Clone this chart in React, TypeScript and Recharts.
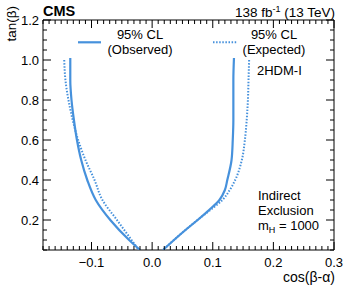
import React from 'react';
import { LineChart, Line, XAxis, YAxis, ReferenceArea } from 'recharts';

const W = 357;
const H = 286;
const M = { top: 20, right: 23, left: 42, bottom: 35 };
const PW = 291;
const PH = 230;

const FONT = '"Liberation Sans", Arial, Helvetica, sans-serif';
const BLUE = '#4691dc';

const xDomain: [number, number] = [-0.18, 0.3];
const yDomain: [number, number] = [0.05, 1.2];
const xMajorTicks = [-0.1, 0, 0.1, 0.2, 0.3];
const xTickLabels = ['\u22120.1', '0.0', '0.1', '0.2', '0.3'];
const yMajorTicks = [0.2, 0.4, 0.6, 0.8, 1.0, 1.2];
const yTickLabels = ['0.2', '0.4', '0.6', '0.8', '1.0', '1.2'];
const xMinorTicks = Array.from({ length: 49 }, (_, i) => (-18 + i) / 100);
const yMinorTicks = Array.from({ length: 24 }, (_, i) => (5 + 5 * i) / 100);

// Observed 95% CL
const obsLeftTan = [1.01, 0.9, 0.8, 0.7, 0.6, 0.5, 0.4, 0.3, 0.2, 0.1, 0.05];
const obsLeftCos = [-0.135, -0.135, -0.133, -0.129, -0.124, -0.117, -0.107, -0.093, -0.069, -0.038, -0.02];
const obsRightTan = [1.01, 0.9, 0.8, 0.7, 0.6, 0.5, 0.4, 0.35, 0.3, 0.25, 0.2, 0.15, 0.1, 0.05];
const obsRightCos = [0.135, 0.134, 0.134, 0.134, 0.133, 0.131, 0.124, 0.12, 0.111, 0.094, 0.075, 0.055, 0.036, 0.018];

// Expected 95% CL
const expLeftTan = [1.0, 0.9, 0.8, 0.7, 0.6, 0.5, 0.4, 0.3, 0.2, 0.1, 0.05];
const expLeftCos = [-0.145, -0.143, -0.138, -0.131, -0.122, -0.11, -0.095, -0.082, -0.058, -0.034, -0.022];
const expRightTan = [1.0, 0.9, 0.8, 0.7, 0.6, 0.5, 0.4, 0.35, 0.3, 0.25, 0.2, 0.15, 0.1, 0.05];
const expRightCos = [0.16, 0.159, 0.158, 0.156, 0.153, 0.148, 0.137, 0.128, 0.116, 0.096, 0.075, 0.055, 0.036, 0.018];

const toPts = (tan: number[], cos: number[]) => tan.map((t, i) => ({ x: cos[i], y: t }));

const obsLeft = toPts(obsLeftTan, obsLeftCos);
const obsRight = toPts(obsRightTan, obsRightCos);
const expLeft = toPts(expLeftTan, expLeftCos);
const expRight = toPts(expRightTan, expRightCos);

const near = (a: number, b: number) => Math.abs(a - b) < 1e-6;

const XTick = (props: any) => {
  const { x, y, payload } = props;
  const idx = xMajorTicks.findIndex((t) => near(t, payload.value));
  const len = idx >= 0 ? 8 : 4;
  return (
    <g>
      <line x1={x} x2={x} y1={y} y2={y - len} stroke="#000" strokeWidth={1} />
      <line x1={x} x2={x} y1={y - PH} y2={y - PH + len} stroke="#000" strokeWidth={1} />
      {idx >= 0 && (
        <text x={x} y={y + 17} textAnchor="middle" fontSize={13} fontFamily={FONT} fill="#000">
          {xTickLabels[idx]}
        </text>
      )}
    </g>
  );
};

const YTick = (props: any) => {
  const { x, y, payload } = props;
  const idx = yMajorTicks.findIndex((t) => near(t, payload.value));
  const len = idx >= 0 ? 8 : 4;
  return (
    <g>
      <line x1={x} x2={x + len} y1={y} y2={y} stroke="#000" strokeWidth={1} />
      <line x1={x + PW} x2={x + PW - len} y1={y} y2={y} stroke="#000" strokeWidth={1} />
      {idx >= 0 && (
        <text x={x - 4} y={y + 4.5} textAnchor="end" fontSize={13} fontFamily={FONT} fill="#000">
          {yTickLabels[idx]}
        </text>
      )}
    </g>
  );
};

export default function App() {
  return (
    <div style={{ position: 'absolute', left: 0, top: 0, width: W, height: H, background: '#fff' }}>
      <LineChart width={W} height={H} margin={M}>
        <XAxis
          type="number"
          dataKey="x"
          domain={xDomain}
          allowDataOverflow
          ticks={xMinorTicks}
          interval={0}
          tick={(p: any) => <XTick {...p} />}
          tickLine={false}
          axisLine={false}
          tickSize={0}
          tickMargin={0}
          height={1}
        />
        <YAxis
          type="number"
          dataKey="y"
          domain={yDomain}
          allowDataOverflow
          ticks={yMinorTicks}
          interval={0}
          tick={(p: any) => <YTick {...p} />}
          tickLine={false}
          axisLine={false}
          tickSize={0}
          tickMargin={0}
          width={1}
        />
        <Line data={expLeft} dataKey="y" type="monotoneY" stroke={BLUE} strokeWidth={2} strokeDasharray="1.5 1.6" dot={false} isAnimationActive={false} />
        <Line data={expRight} dataKey="y" type="monotoneY" stroke={BLUE} strokeWidth={2} strokeDasharray="1.5 1.6" dot={false} isAnimationActive={false} />
        <Line data={obsLeft} dataKey="y" type="monotoneY" stroke={BLUE} strokeWidth={2.2} dot={false} isAnimationActive={false} />
        <Line data={obsRight} dataKey="y" type="monotoneY" stroke={BLUE} strokeWidth={2.2} dot={false} isAnimationActive={false} />
        <ReferenceArea x1={xDomain[0]} x2={xDomain[1]} y1={yDomain[0]} y2={yDomain[1]} fill="none" stroke="#000" strokeWidth={1} ifOverflow="visible" />
      </LineChart>
      <svg width={W} height={H} style={{ position: 'absolute', left: 0, top: 0, pointerEvents: 'none' }} fontFamily={FONT}>
        <text x={43} y={16} fontSize={14.5} fontWeight="bold" fill="#000">CMS</text>
        <text x={335} y={17} fontSize={13.5} textAnchor="end" fill="#000">
          138 fb<tspan dy={-5} fontSize={9}>-1</tspan><tspan dy={5}> (13 TeV)</tspan>
        </text>
        <text transform="translate(16,6) rotate(-90)" textAnchor="end" fontSize={13.5} fill="#000">tan(β)</text>
        <text x={335} y={282} textAnchor="end" fontSize={14} fill="#000">cos(β-α)</text>

        <line x1={78} x2={101} y1={42.3} y2={42.3} stroke={BLUE} strokeWidth={2.2} />
        <text x={140} y={39} textAnchor="middle" fontSize={13} fill="#000">95% CL</text>
        <text x={140} y={54} textAnchor="middle" fontSize={13} fill="#000">(Observed)</text>

        <line x1={213} x2={237} y1={42.3} y2={42.3} stroke={BLUE} strokeWidth={2} strokeDasharray="1.5 1.6" />
        <text x={274} y={39} textAnchor="middle" fontSize={13} fill="#000">95% CL</text>
        <text x={274} y={54} textAnchor="middle" fontSize={13} fill="#000">(Expected)</text>

        <text x={257} y={75} fontSize={13} fill="#000">2HDM-I</text>

        <text x={258} y={200} fontSize={13} fill="#000">Indirect</text>
        <text x={258} y={215} fontSize={13} fill="#000">Exclusion</text>
        <text x={258} y={230} fontSize={13} fill="#000">
          m<tspan dy={3} fontSize={9}>H</tspan><tspan dy={-3}> = 1000</tspan>
        </text>
      </svg>
    </div>
  );
}
